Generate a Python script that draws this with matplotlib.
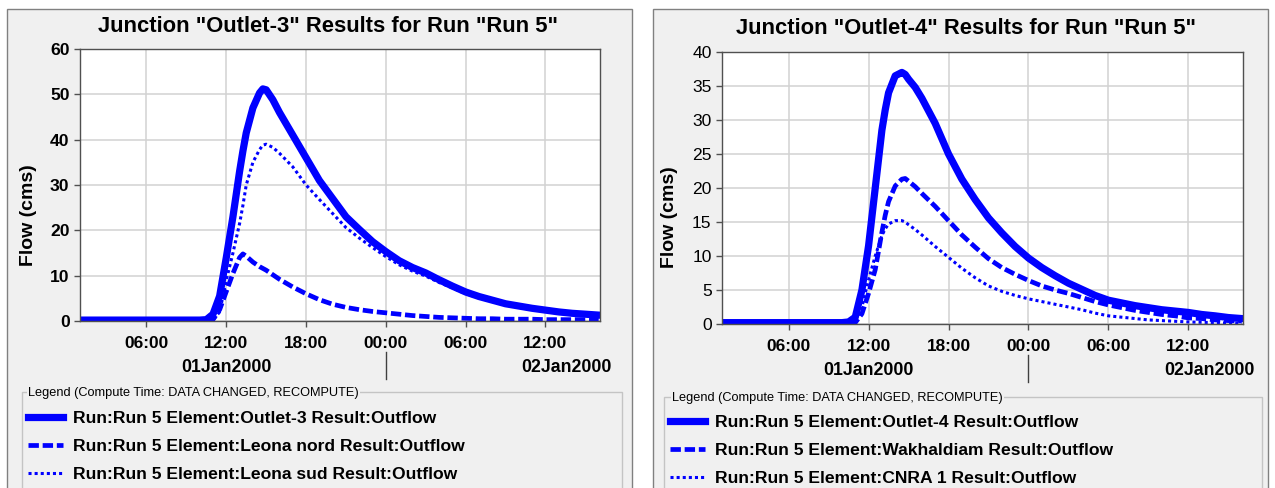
import matplotlib
matplotlib.use("Agg")
import matplotlib.pyplot as plt
from matplotlib.patches import Rectangle
from matplotlib.lines import Line2D
import matplotlib.transforms as mtransforms

# ---------------- data ----------------
hours = [1, 5, 9, 10, 10.5, 11, 11.5, 12, 12.5, 13, 13.25, 13.5, 14, 14.5, 14.75, 15, 15.5, 16,
         17, 18, 19, 20, 21, 22, 23, 24, 25, 26, 27, 28, 29, 30, 31, 32, 33, 34, 35, 36, 37, 38, 39, 40]

outlet3 = [0.2, 0.2, 0.2, 0.2, 0.3, 1.5, 5.5, 14, 23, 33, 37.5, 41.5, 47, 50.3, 51.2, 51, 48.8, 46,
           41, 36, 31, 27, 23, 20.2, 17.5, 15.3, 13.3, 11.8, 10.6, 9.1, 7.7, 6.4, 5.4, 4.6, 3.8, 3.3,
           2.8, 2.4, 2.0, 1.7, 1.5, 1.3]
leona_nord = [0.1, 0.1, 0.1, 0.1, 0.1, 0.3, 2.5, 6.5, 10.5, 14, 14.8, 14.3, 13, 12, 11.6, 11.2, 10.2, 9.2,
              7.5, 6.0, 4.7, 3.7, 3.0, 2.5, 2.1, 1.8, 1.5, 1.2, 1.0, 0.8, 0.7, 0.6, 0.5, 0.5, 0.4, 0.4,
              0.4, 0.3, 0.3, 0.3, 0.3, 0.2]
leona_sud = [0.1, 0.1, 0.1, 0.1, 0.1, 0.2, 2, 9, 15, 21.5, 25.5, 30, 35, 37.8, 38.8, 39, 38.3, 37,
             34, 30, 26.8, 23.7, 20.6, 18.3, 16.2, 14.2, 12.4, 11.0, 9.9, 8.5, 7.3, 6.0, 5.1, 4.3, 3.6, 3.0,
             2.6, 2.2, 1.8, 1.5, 1.3, 1.1]

outlet4 = [0.2, 0.2, 0.2, 0.2, 0.3, 1.0, 5, 11.5, 20, 28.5, 31.5, 34, 36.5, 37, 36.7, 36, 34.8, 33.2,
           29.5, 25.0, 21.3, 18.3, 15.6, 13.4, 11.4, 9.7, 8.3, 7.1, 6.0, 5.1, 4.2, 3.5, 3.1, 2.7, 2.4, 2.1,
           1.9, 1.7, 1.4, 1.2, 0.95, 0.8]
wakhaldiam = [0.1, 0.1, 0.1, 0.1, 0.1, 0.2, 1.5, 4.5, 8, 13.5, 16, 18, 20.3, 21.3, 21.4, 21, 20.2, 19.2,
              17.3, 15.2, 13.1, 11.3, 9.6, 8.3, 7.3, 6.4, 5.6, 5.0, 4.5, 3.9, 3.3, 2.8, 2.4, 2.0, 1.7, 1.4,
              1.2, 0.9, 0.8, 0.6, 0.5, 0.45]
cnra1 = [0.1, 0.1, 0.1, 0.1, 0.1, 0.3, 2.5, 6.5, 10, 13, 14, 14.7, 15.2, 15.2, 15.0, 14.6, 13.9, 13.1,
         11.4, 9.8, 8.2, 6.8, 5.6, 4.8, 4.2, 3.7, 3.3, 2.9, 2.5, 2.1, 1.6, 1.2, 1.0, 0.8, 0.6, 0.5,
         0.4, 0.3, 0.25, 0.2, 0.15, 0.1]

x_ticks = [6, 12, 18, 24, 30, 36]
x_ticklabels = ["06:00", "12:00", "18:00", "00:00", "06:00", "12:00"]
day_boundary = 24
day_labels = ["01Jan2000", "02Jan2000"]

titles = ['Junction "Outlet-3" Results for Run "Run 5"', 'Junction "Outlet-4" Results for Run "Run 5"']
labels_left = ["Run:Run 5 Element:Outlet-3 Result:Outflow",
               "Run:Run 5 Element:Leona nord Result:Outflow",
               "Run:Run 5 Element:Leona sud Result:Outflow"]
labels_right = ["Run:Run 5 Element:Outlet-4 Result:Outflow",
                "Run:Run 5 Element:Wakhaldiam Result:Outflow",
                "Run:Run 5 Element:CNRA 1 Result:Outflow"]
legend_title = "Legend (Compute Time: DATA CHANGED, RECOMPUTE)"
ylabel = "Flow (cms)"

# ---------------- layout helpers ----------------
W, H = 1275, 488
fig = plt.figure(figsize=(W / 100, H / 100), dpi=100)
fig.patch.set_facecolor("white")
plt.rcParams["font.family"] = ["Liberation Sans", "DejaVu Sans"]


def fx(px):
    return px / W


def fy(py):
    return 1 - py / H


PANEL = "#F0F0F0"
BLUE = "#0000FF"

# panels
for (x0, x1) in [(7, 632), (653, 1268)]:
    fig.add_artist(Rectangle((fx(x0), fy(520)), fx(x1 - x0), (520 - 9) / H,
                             facecolor=PANEL, edgecolor="#808080", linewidth=1.0,
                             transform=fig.transFigure, zorder=0))


def setup_axes(rect, ylim, yticks, ybold):
    ax = fig.add_axes(rect)
    ax.set_facecolor("white")
    ax.set_xlim(1, 40.1)
    ax.set_ylim(*ylim)
    ax.set_yticks(yticks)
    ax.set_xticks(x_ticks)
    ax.set_xticklabels(x_ticklabels, fontsize=12.4, fontweight="bold")
    ax.set_yticklabels([str(v) for v in yticks], fontsize=12.6,
                       fontweight="bold" if ybold else "normal")
    ax.grid(True, color="#D2D2D2", linewidth=1.1)
    ax.set_axisbelow(True)
    for s in ax.spines.values():
        s.set_color("#505050")
        s.set_linewidth(1.0)
    ax.tick_params(axis="both", direction="out", length=4.5, width=1, color="#505050")
    ax.tick_params(axis="x", pad=6)
    ax.tick_params(axis="y", pad=3)
    # date labels and day separator
    tr = mtransforms.blended_transform_factory(ax.transData, ax.transAxes)
    ax.text(12, -0.172, day_labels[0], transform=tr, ha="center", va="center",
            fontsize=12.8, fontweight="bold")
    ax.text(1.022, -0.172, day_labels[1], transform=ax.transAxes, ha="right", va="center",
            fontsize=12.8, fontweight="bold")
    ax.add_line(Line2D([day_boundary, day_boundary], [-0.115, -0.215], transform=tr,
                       color="#404040", linewidth=1.0, clip_on=False))
    return ax


def draw_series(ax, series, labels):
    h1, = ax.plot(hours, series[0], color=BLUE, linewidth=5.2, solid_joinstyle="round",
                  label=labels[0])
    h2, = ax.plot(hours, series[1], color=BLUE, linewidth=3.4, linestyle=(0, (2.2, 0.8)),
                  label=labels[1])
    h3, = ax.plot(hours, series[2], color=BLUE, linewidth=2.2, linestyle=(0, (1, 1)),
                  label=labels[2])
    return [h1, h2, h3]


axL = setup_axes([fx(80), fy(321), (600 - 80) / W, (321 - 49) / H], (0, 60),
                 [0, 10, 20, 30, 40, 50, 60], True)
hl = draw_series(axL, [outlet3, leona_nord, leona_sud], labels_left)

axR = setup_axes([fx(722), fy(324), (1243 - 722) / W, (324 - 52) / H], (0, 40),
                 [0, 5, 10, 15, 20, 25, 30, 35, 40], False)
hr = draw_series(axR, [outlet4, wakhaldiam, cnra1], labels_right)

# titles and y labels
fig.text(fx(328), fy(26), titles[0], ha="center", va="center", fontsize=15.8, fontweight="bold")
fig.text(fx(966), fy(28), titles[1], ha="center", va="center", fontsize=15.8, fontweight="bold")
fig.text(fx(29), fy(215), ylabel, ha="center", va="center", rotation=90, fontsize=14, fontweight="bold")
fig.text(fx(670), fy(217), ylabel, ha="center", va="center", rotation=90, fontsize=14, fontweight="bold")

# legend group boxes
for (x0, x1, ytop, xt, handles, labels, yfirst, xh) in [
        (22, 622, 392, 28, hl, labels_left, 411, 28),
        (664, 1262, 397, 672, hr, labels_right, 415, 670)]:
    fig.add_artist(Rectangle((fx(x0), fy(530)), fx(x1 - x0), (530 - ytop) / H,
                             facecolor="none", edgecolor="#C4C4C4", linewidth=1.0,
                             transform=fig.transFigure, zorder=1))
    fig.text(fx(xt), fy(ytop + 1), legend_title, ha="left", va="center", fontsize=9.2,
             bbox=dict(facecolor=PANEL, edgecolor="none", pad=1.0), zorder=2)
    fig.legend(handles, labels, loc="upper left", bbox_to_anchor=(fx(xh), fy(yfirst)),
               frameon=False, borderaxespad=0, borderpad=0, handlelength=2.0,
               handletextpad=0.55, labelspacing=0.72,
               prop={"size": 12.6, "weight": "bold"})

fig.savefig("out.png", dpi=100, facecolor="white")
